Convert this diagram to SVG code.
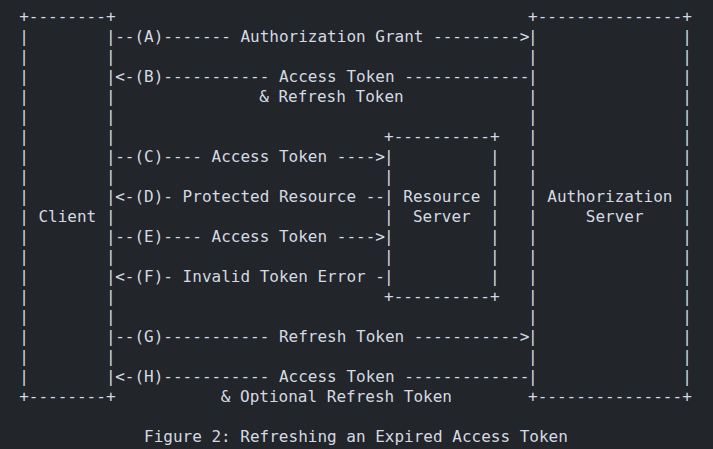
<svg xmlns="http://www.w3.org/2000/svg" width="713" height="449" viewBox="0 0 713 449" xml:space="preserve">
<style>
text { font-family: "DejaVu Sans Mono", "Liberation Mono", monospace; font-size: 16px; fill: #d4dae2; white-space: pre; }
</style>
<rect x="0" y="0" width="713" height="449" fill="#22252a"/>
<g id="client">
<text><tspan x="19.2" y="22">+--------+</tspan><tspan x="19.2" y="42">|        |</tspan><tspan x="19.2" y="62">|        |</tspan><tspan x="19.2" y="82">|        |</tspan><tspan x="19.2" y="102">|        |</tspan><tspan x="19.2" y="122">|        |</tspan><tspan x="19.2" y="142">|        |</tspan><tspan x="19.2" y="162">|        |</tspan><tspan x="19.2" y="182">|        |</tspan><tspan x="19.2" y="202">|        |</tspan><tspan x="19.2" y="222">| Client |</tspan><tspan x="19.2" y="242">|        |</tspan><tspan x="19.2" y="262">|        |</tspan><tspan x="19.2" y="282">|        |</tspan><tspan x="19.2" y="302">|        |</tspan><tspan x="19.2" y="322">|        |</tspan><tspan x="19.2" y="342">|        |</tspan><tspan x="19.2" y="362">|        |</tspan><tspan x="19.2" y="382">|        |</tspan><tspan x="19.2" y="402">+--------+</tspan></text>
</g>
<g id="resource-server">
<text><tspan x="384" y="142">+----------+</tspan><tspan x="384" y="162">|          |</tspan><tspan x="384" y="182">|          |</tspan><tspan x="384" y="202">| Resource |</tspan><tspan x="384" y="222">|  Server  |</tspan><tspan x="384" y="242">|          |</tspan><tspan x="384" y="262">|          |</tspan><tspan x="384" y="282">|          |</tspan><tspan x="384" y="302">+----------+</tspan></text>
</g>
<g id="authorization-server">
<text><tspan x="528" y="22">+---------------+</tspan><tspan x="528" y="42">|               |</tspan><tspan x="528" y="62">|               |</tspan><tspan x="528" y="82">|               |</tspan><tspan x="528" y="102">|               |</tspan><tspan x="528" y="122">|               |</tspan><tspan x="528" y="142">|               |</tspan><tspan x="528" y="162">|               |</tspan><tspan x="528" y="182">|               |</tspan><tspan x="528" y="202">| Authorization |</tspan><tspan x="528" y="222">|     Server    |</tspan><tspan x="528" y="242">|               |</tspan><tspan x="528" y="262">|               |</tspan><tspan x="528" y="282">|               |</tspan><tspan x="528" y="302">|               |</tspan><tspan x="528" y="322">|               |</tspan><tspan x="528" y="342">|               |</tspan><tspan x="528" y="362">|               |</tspan><tspan x="528" y="382">|               |</tspan><tspan x="528" y="402">+---------------+</tspan></text>
</g>
<g id="connectors">
<text x="115.2" y="42">--(A)------- Authorization Grant ---------&gt;</text>
<text x="115.2" y="82">&lt;-(B)----------- Access Token -------------</text>
<text x="259.2" y="102">&amp; Refresh Token</text>
<text x="115.2" y="162">--(C)---- Access Token ----&gt;</text>
<text x="115.2" y="202">&lt;-(D)- Protected Resource --</text>
<text x="115.2" y="242">--(E)---- Access Token ----&gt;</text>
<text x="115.2" y="282">&lt;-(F)- Invalid Token Error -</text>
<text x="115.2" y="342">--(G)----------- Refresh Token -----------&gt;</text>
<text x="115.2" y="382">&lt;-(H)----------- Access Token -------------</text>
<text x="220.8" y="402">&amp; Optional Refresh Token</text>
</g>
<g id="caption">
<text x="144" y="442">Figure 2: Refreshing an Expired Access Token</text>
</g>
</svg>
